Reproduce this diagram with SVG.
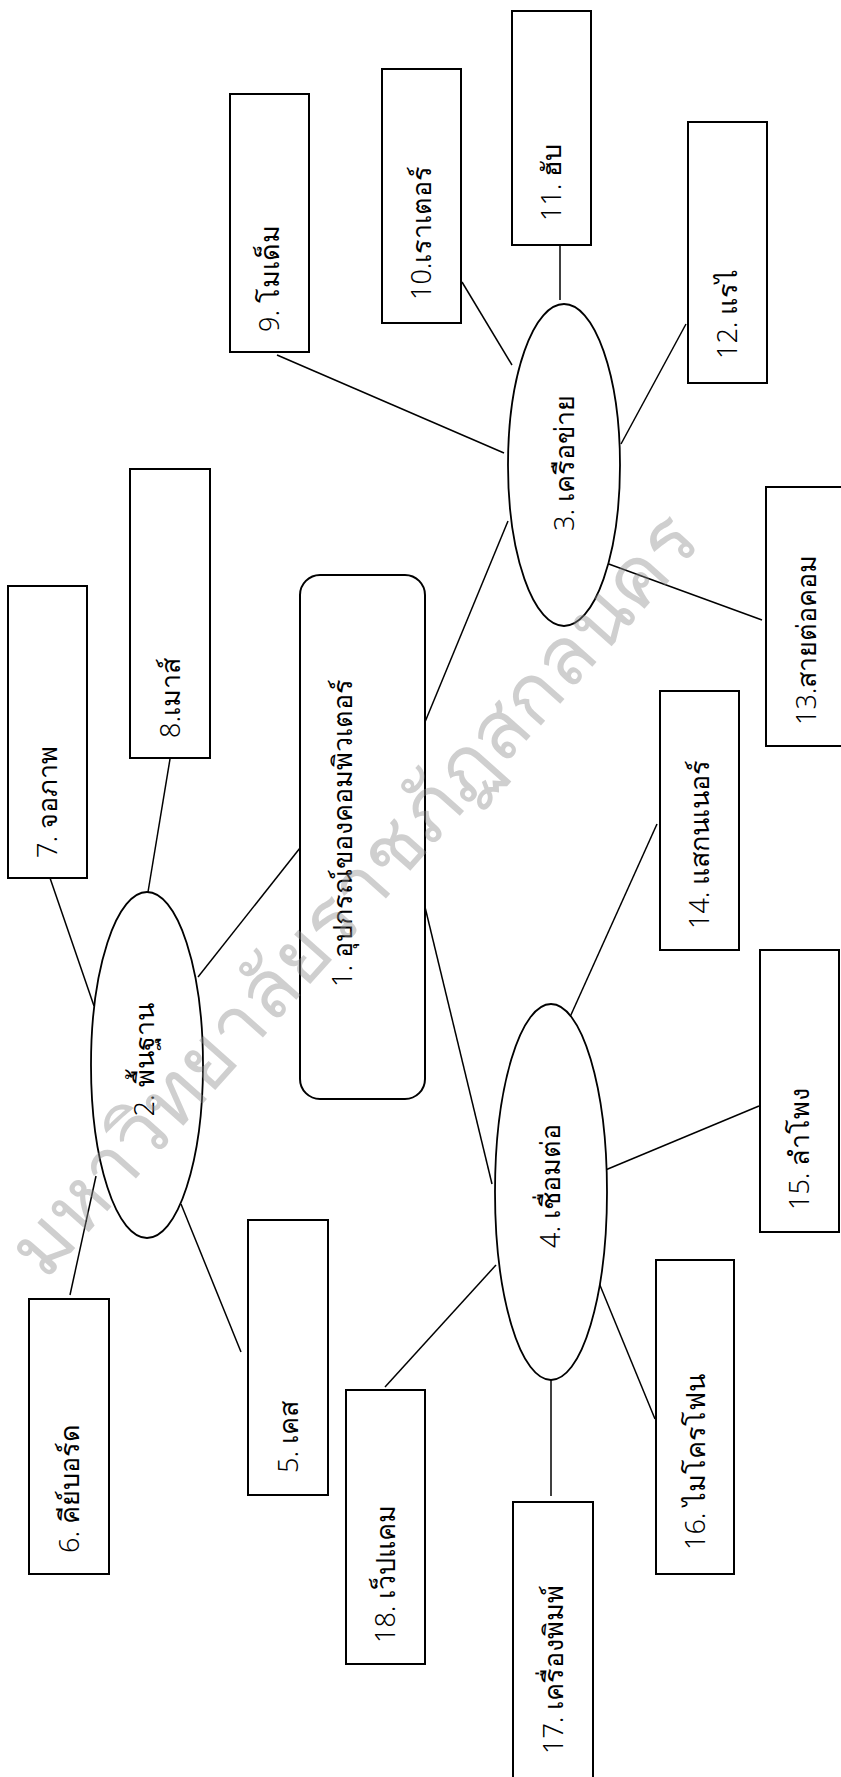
<svg xmlns="http://www.w3.org/2000/svg" width="841" height="1777" viewBox="0 0 841 1777">
<style>
.box{fill:#fff;stroke:#000;stroke-width:2}
.ell{fill:#fff;stroke:#000;stroke-width:1.8}
.ln{stroke:#000;stroke-width:1.5;fill:none}
.t{font-family:"Noto Sans","DejaVu Sans",sans-serif;font-size:27px;font-weight:300;fill:#000}
.c{text-anchor:middle}
.wm{font-family:"Noto Sans","DejaVu Sans",sans-serif;font-size:81px;font-weight:300;fill:#8c8c8c;fill-opacity:0.42;text-anchor:middle}
</style>
<rect width="841" height="1777" fill="#fff"/>
<g id="connectors">
<line class="ln" x1="300" y1="848" x2="198" y2="977"/>
<line class="ln" x1="425" y1="722" x2="508" y2="521"/>
<line class="ln" x1="425" y1="907" x2="492" y2="1184"/>
<line class="ln" x1="94" y1="1006" x2="50" y2="878"/>
<line class="ln" x1="148" y1="892" x2="170" y2="759"/>
<line class="ln" x1="96" y1="1176" x2="70" y2="1295"/>
<line class="ln" x1="181" y1="1204" x2="241" y2="1352"/>
<line class="ln" x1="504" y1="453" x2="277" y2="355"/>
<line class="ln" x1="512" y1="365" x2="462" y2="282"/>
<line class="ln" x1="560" y1="300" x2="560" y2="245"/>
<line class="ln" x1="621" y1="444" x2="686" y2="324"/>
<line class="ln" x1="606" y1="563" x2="762" y2="620"/>
<line class="ln" x1="570" y1="1017" x2="657" y2="824"/>
<line class="ln" x1="603" y1="1171" x2="759" y2="1106"/>
<line class="ln" x1="597" y1="1278" x2="655" y2="1419"/>
<line class="ln" x1="551" y1="1380" x2="551" y2="1496"/>
<line class="ln" x1="496" y1="1265" x2="385" y2="1387"/>
</g>
<g id="n1"><rect class="box" x="300" y="575" width="125" height="524" rx="20"/><text class="t c" transform="translate(352,833) rotate(-90)">1. อุปกรณ์ของคอมพิวเตอร์</text></g>
<g id="n2"><ellipse class="ell" cx="147" cy="1065" rx="56" ry="173"/><text class="t c" transform="translate(154,1060) rotate(-90)">2. พื้นฐาน</text></g>
<g id="n3"><ellipse class="ell" cx="564" cy="465" rx="56" ry="161"/><text class="t c" transform="translate(574,463) rotate(-90)">3. เครือข่าย</text></g>
<g id="n4"><ellipse class="ell" cx="551" cy="1192" rx="56" ry="188"/><text class="t c" transform="translate(560,1186) rotate(-90)">4. เชื่อมต่อ</text></g>
<g id="n5"><rect class="box" x="248" y="1220" width="80" height="275"/><text class="t" transform="translate(298,1473) rotate(-90)">5. เคส</text></g>
<g id="n6"><rect class="box" x="29" y="1299" width="80" height="275"/><text class="t" transform="translate(79,1553) rotate(-90)">6. คีย์บอร์ด</text></g>
<g id="n7"><rect class="box" x="8" y="586" width="79" height="292"/><text class="t" transform="translate(57,858) rotate(-90)">7. จอภาพ</text></g>
<g id="n8"><rect class="box" x="130" y="469" width="80" height="289"/><text class="t" transform="translate(180,738) rotate(-90)">8.เมาส์</text></g>
<g id="n9"><rect class="box" x="230" y="94" width="79" height="258"/><text class="t" transform="translate(279,332) rotate(-90)">9. โมเด็ม</text></g>
<g id="n10"><rect class="box" x="382" y="69" width="79" height="254"/><text class="t" transform="translate(431,300) rotate(-90)">10.เราเตอร์</text></g>
<g id="n11"><rect class="box" x="512" y="11" width="79" height="234"/><text class="t" transform="translate(561,221) rotate(-90)">11. ฮับ</text></g>
<g id="n12"><rect class="box" x="688" y="122" width="79" height="261"/><text class="t" transform="translate(737,359) rotate(-90)">12. แรไ</text></g>
<g id="n13"><rect class="box" x="766" y="487" width="80" height="259"/><text class="t" transform="translate(816,725) rotate(-90)">13.สายต่อคอม</text></g>
<g id="n14"><rect class="box" x="660" y="691" width="79" height="259"/><text class="t" transform="translate(709,929) rotate(-90)">14. แสกนเนอร์</text></g>
<g id="n15"><rect class="box" x="760" y="950" width="79" height="282"/><text class="t" transform="translate(809,1210) rotate(-90)">15. ลำโพง</text></g>
<g id="n16"><rect class="box" x="656" y="1260" width="78" height="314"/><text class="t" transform="translate(705,1550) rotate(-90)">16. ไมโครโฟน</text></g>
<g id="n17"><rect class="box" x="513" y="1502" width="80" height="290"/><text class="t" transform="translate(563,1754) rotate(-90)">17. เครื่องพิมพ์</text></g>
<g id="n18"><rect class="box" x="346" y="1390" width="79" height="274"/><text class="t" transform="translate(395,1643) rotate(-90)">18. เว็ปแคม</text></g>
<text class="wm" transform="translate(374,912) rotate(-48.3)">มหาวิทยาลัยราชภัฏสกลนคร</text>
</svg>
